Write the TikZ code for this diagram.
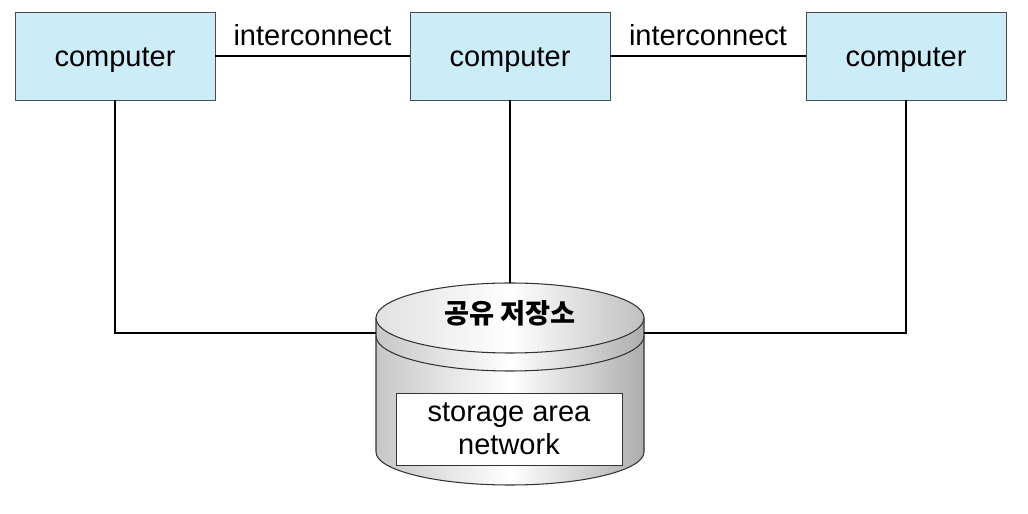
\documentclass[tikz,border=0pt]{standalone}
\usepackage{fontspec}
\setmainfont{Liberation Sans}
\newfontfamily\kofont{Noto Sans CJK KR}
\definecolor{compblue}{RGB}{204,236,248}

\tikzstyle{computer}=[draw=black!70,fill=compblue,minimum width=4cm,minimum height=1.76cm,inner sep=0pt,text height=11.4pt,text depth=0pt,font=\fontsize{16.5}{19}\selectfont]
\tikzstyle{wire}=[line width=0.8pt,black]
\tikzstyle{linklabel}=[inner sep=0pt,text depth=0pt,yshift=0.2cm,font=\fontsize{16.5}{19}\selectfont]

\begin{document}
\begin{tikzpicture}
	\useasboundingbox (0,0) rectangle (20.56,10.28);
	
	\node[computer] (c1) at (2.3,9.16) {computer};
	\node[computer] (c2) at (10.2,9.16) {computer};
	\node[computer] (c3) at (18.12,9.16) {computer};
	
	\draw[wire] (c1)--(c2) node [midway, above, linklabel] {interconnect};
	\draw[wire] (c2)--(c3) node [midway, above, linklabel] {interconnect};
	
	% shared storage
	\path[left color=black!22, right color=black!32, middle color=white, draw=black!80, line width=0.6pt]
		(7.52,3.92) -- (7.52,1.24) arc[start angle=180, end angle=360, x radius=2.68, y radius=0.66]
		-- (12.88,3.92) -- cycle;
	\draw[black!80, line width=0.6pt] (7.52,3.56) arc[start angle=180, end angle=360, x radius=2.68, y radius=0.7];
	\path[left color=black!12, right color=black!25, middle color=white, draw=black!80, line width=0.6pt]
		(10.2,3.92) ellipse [x radius=2.68, y radius=0.7];
	\node[font=\kofont\bfseries\fontsize{15.5}{17}\selectfont] (shared) at (10.2,4.02) {공유 저장소};
	\node[draw=black!80, fill=white, minimum width=4.52cm, minimum height=1.44cm, align=center, font=\fontsize{16.5}{18.5}\selectfont] (san) at (10.18,1.70) {storage area\\network};
	
	\coordinate (stL) at (7.52,3.62);
	\coordinate (stR) at (12.88,3.62);
	\coordinate (stT) at (10.2,4.62);
	
	\draw[wire] (c1.south)|-(stL);
	\draw[wire] (c3.south)|-(stR);
	\draw[wire] (c2.south)--(stT);
\end{tikzpicture}
\end{document}
